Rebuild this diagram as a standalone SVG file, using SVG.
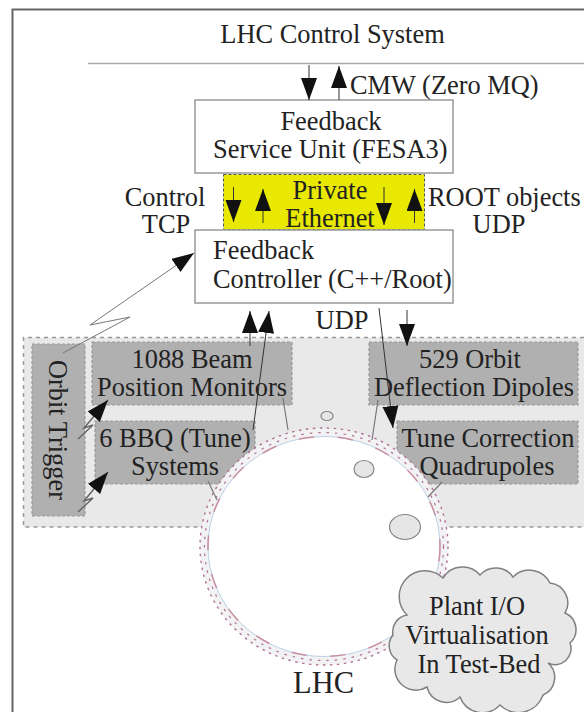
<svg xmlns="http://www.w3.org/2000/svg" width="584" height="712" viewBox="0 0 584 712">
<style>
text{font-family:"Liberation Serif","Times New Roman",serif;font-size:26.4px;fill:#222}
.m{text-anchor:middle}
.box{fill:#fff;stroke:#999;stroke-width:1.5}
.gray{fill:#b0b0b0;stroke:#999;stroke-width:1.2;stroke-dasharray:3 2}
.c{fill:none;stroke:#333;stroke-width:1;marker-end:url(#ah)}
.t{fill:none;stroke:#777;stroke-width:1.2}
.hole{fill:#e6e6e6;stroke:#888;stroke-width:1.2}
</style>
<defs>
<marker id="ah" markerUnits="userSpaceOnUse" markerWidth="24" markerHeight="18" refX="22" refY="8" orient="auto">
<path d="M0,0L22,8L0,16Z" fill="#111"/>
</marker>
</defs>
<rect width="584" height="712" fill="#fff"/>
<path id="frame" d="M12.500,712V9.500H584" fill="none" stroke="#666" stroke-width="2"/>
<path id="bus" d="M88,63.500H584" fill="none" stroke="#aaa" stroke-width="1.500"/>
<g id="lhc-area">
<path d="M584,337.500H23.500V527H584" fill="#e9e9e9" stroke="#999" stroke-width="1.500" stroke-dasharray="4 4"/>
</g>
<g id="yellow-net">
<rect x="223.500" y="174.500" width="201" height="55" fill="#e8e800" stroke="#555" stroke-width="1" stroke-dasharray="3 2"/>
</g>
<g id="service-unit"><rect class="box" x="195" y="100" width="258" height="73"/></g>
<g id="controller"><rect class="box" x="195" y="230" width="258" height="73"/></g>
<g id="orbit-box"><rect class="gray" x="32" y="344" width="53" height="172"/></g>
<g id="bpm-box"><rect class="gray" x="92" y="342" width="200" height="63"/></g>
<g id="bbq-box"><rect class="gray" x="95" y="421" width="160" height="63"/></g>
<g id="dipole-box"><rect class="gray" x="369" y="342" width="209" height="63"/></g>
<g id="quad-box"><rect class="gray" x="397" y="421" width="181" height="63"/></g>
<g id="lhc-ring">
<ellipse cx="324" cy="546.500" rx="124" ry="118.500" fill="#f2f2f2" stroke="none"/>
<path d="M200,546.500A124,118.500 0 0 0 448,546.500V712H200Z" fill="#fff"/>
<ellipse cx="324" cy="546.500" rx="116" ry="110" fill="#fff" stroke="#a9c6e4" stroke-width="0.800"/>
<ellipse cx="324" cy="546.500" rx="124" ry="118.500" fill="none" stroke="#b0709a" stroke-width="1.400" stroke-dasharray="2.500 4.500"/>
<ellipse cx="324" cy="546.500" rx="119.500" ry="114" fill="none" stroke="#b0709a" stroke-width="1.200" stroke-dasharray="2.500 6"/>
<ellipse cx="324" cy="546.500" rx="116" ry="110" fill="none" stroke="#c98da0" stroke-width="1.500" stroke-dasharray="15 24"/>
</g>
<g id="holes">
<ellipse class="hole" cx="327" cy="416" rx="6" ry="4.500"/>
<ellipse class="hole" cx="364" cy="469" rx="10" ry="8.500"/>
<ellipse class="hole" cx="405" cy="527" rx="15.500" ry="12.500"/>
</g>
<g id="connectors">
<path class="c" d="M309,65V100"/>
<path class="c" d="M339,100V66"/>
<path class="c" d="M233.500,187V222"/>
<path class="c" d="M263,223V189"/>
<path class="c" d="M384,187V225"/>
<path class="c" d="M414.500,223V189"/>
<path class="c" d="M63,353L130,317L90,325L194,253" style="stroke:#777"/>
<path class="c" d="M250,346V311"/>
<path class="c" d="M253,430L269,311"/>
<path class="c" d="M379,308L393,428"/>
<path class="c" d="M407,310V346"/>
<path class="c" d="M78,439L93,425L84,428L108,400" style="stroke:#666;stroke-width:1.500"/>
<path class="c" d="M78,512L93,498L84,501L108,472" style="stroke:#666;stroke-width:1.500"/>
<path class="t" d="M283,398L288,430"/>
<path class="t" d="M208,481L217,500"/>
<path class="t" d="M378,400L372,440"/>
<path class="t" d="M442,482L428,497"/>
</g>
<g id="cloud">
<path d="M407,615A24,24 0 0 1 443,578A23,23 0 0 1 480,575A21,21 0 0 1 513,577A23,23 0 0 1 550,583A20,20 0 0 1 565,613A18,18 0 0 1 570,643A16,16 0 0 1 548,663A19,19 0 0 1 543,695A26,26 0 0 1 500,705A24,24 0 0 1 460,697A20,20 0 0 1 427,687A21,21 0 0 1 397,660A17,17 0 0 1 393,635A17,17 0 0 1 407,615Z" fill="#e8e8e8" stroke="#808080" stroke-width="1.500"/>
</g>
<g id="labels">
<text class="m" x="332.500" y="43">LHC Control System</text>
<text x="350" y="94">CMW (Zero MQ)</text>
<text class="m" x="331" y="130">Feedback</text>
<text x="213" y="158">Service Unit (FESA3)</text>
<text class="m" x="330" y="199">Private</text>
<text class="m" x="330" y="227">Ethernet</text>
<text class="m" x="165" y="206">Control</text>
<text class="m" x="166" y="233">TCP</text>
<text x="428" y="206">ROOT objects</text>
<text class="m" x="499" y="233">UDP</text>
<text x="213" y="259">Feedback</text>
<text x="213" y="288">Controller (C++/Root)</text>
<text class="m" x="342" y="329">UDP</text>
<text class="m" x="192" y="368">1088 Beam</text>
<text class="m" x="192" y="396">Position Monitors</text>
<text class="m" x="175" y="447">6 BBQ (Tune)</text>
<text class="m" x="175" y="475">Systems</text>
<text class="m" x="470" y="368">529 Orbit</text>
<text class="m" x="474" y="396">Deflection Dipoles</text>
<text class="m" x="488" y="447">Tune Correction</text>
<text class="m" x="487" y="475">Quadrupoles</text>
<text class="m" transform="translate(49,430) rotate(90)" x="0" y="0">Orbit Trigger</text>
<text class="m" x="477" y="615">Plant I/O</text>
<text class="m" x="477" y="644">Virtualisation</text>
<text class="m" x="479" y="673">In Test-Bed</text>
<text class="m" x="323.500" y="693" style="font-size:30.500px">LHC</text>
</g>
</svg>
